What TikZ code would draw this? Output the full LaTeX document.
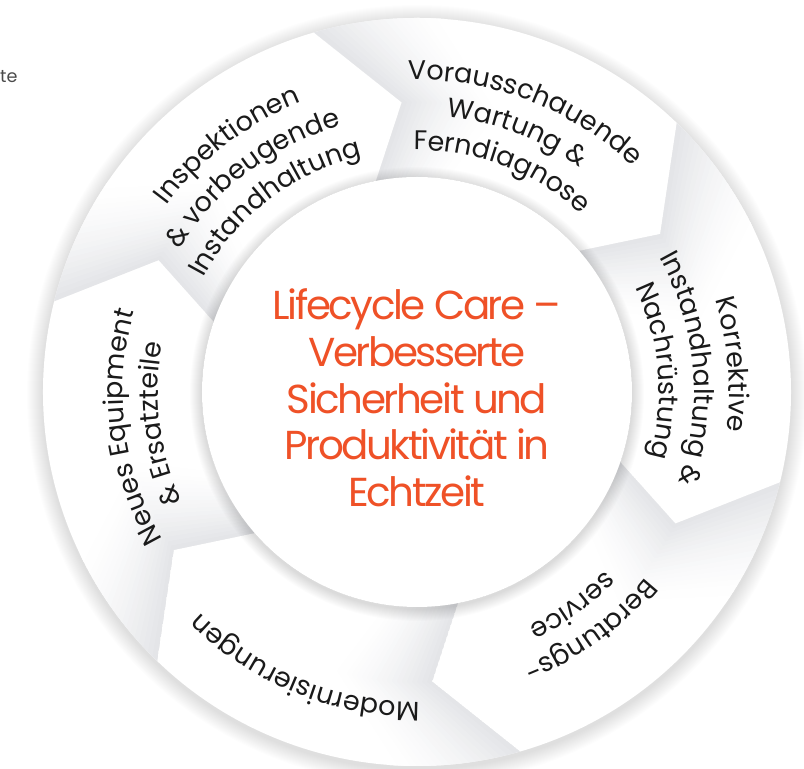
\documentclass[tikz,border=0pt]{standalone}
\usepackage{fontspec}
\setmainfont{Poppins}
\newfontfamily\lblfont{Poppins}
\newfontfamily\corefont[LetterSpace=-6]{Poppins}
\usetikzlibrary{decorations.text}

\definecolor{carered}{HTML}{EF5127}
\definecolor{notchgray}{HTML}{E4E5E8}
\definecolor{lblblack}{HTML}{1A1A1A}
\definecolor{sidegray}{HTML}{4A4A4A}

\tikzset{
  ring label/.style={decorate, decoration={text along path, text align=center, text color=lblblack}},
}
\newcommand{\lblsize}{\lblfont\fontsize{23}{27}\selectfont}
\newcommand{\ringline}[3]{%
  \path[ring label, decoration={text={|\lblsize|#3}}]
    ({#1+75}:#2) arc[start angle={#1+75}, end angle={#1-75}, radius=#2];}

\begin{document}
\begin{tikzpicture}[x=0.03cm, y=0.03cm]
  \useasboundingbox (-417,-377) rectangle (387,392);
  % soft shadow round the ring
  \foreach \k in {0,...,15}
    \fill[black, opacity=0.008] (0,-3) circle (390-\k);
  % the six arrow segments, shaded at their tails
  \foreach \a in {106,46,-14,-74,-134,-194} {
    \begin{scope}
      \clip (\a+60:374) arc[start angle=\a+60, end angle=\a, radius=374]
        -- (\a-13:290) -- (\a-5:215)
        arc[start angle=\a-5, end angle=\a+55, radius=215]
        -- (\a+47:290) -- cycle;
      \fill[white] (0,0) circle (380);
      \foreach \j in {0,...,19} {
        \pgfmathsetmacro\s{\a+60-\j}
        \pgfmathsetmacro\e{\s-1.4}
        \pgfmathsetmacro\p{100*(1-\j/20)^1.6}
        \fill[notchgray!\p!white] (\s:420) -- (\s:374) -- (\s-13:290) -- (\s-5:215) -- (\s-5:190)
          -- (\e-5:190) -- (\e-5:215) -- (\e-13:290) -- (\e:374) -- (\e:420) -- cycle;
      }
    \end{scope}
  }
  % inner disc with its shadow
  \foreach \k in {0,...,11}
    \fill[black, opacity=0.012] (0,-2) circle (227-\k);
  \fill[white] (0,0) circle (215);

  \node[align=center, text=carered, font=\corefont\fontsize{34.5}{39.8}\selectfont] (core) at (0,-6)
    {Lifecycle Care –\\Verbesserte\\Sicherheit und\\Produktivität in\\Echtzeit};

  % labels round the ring
  \ringline{127.5}{312}{Inspektionen}
  \ringline{127.5}{277}{{\&} vorbeugende}
  \ringline{127.5}{242}{Instandhaltung}
  \ringline{69}{312}{Vorausschauende}
  \ringline{69}{277}{Wartung {\&}}
  \ringline{69}{242}{Ferndiagnose}
  \ringline{5}{312}{Korrektive}
  \ringline{5}{277}{Instandhaltung {\&}}
  \ringline{5}{242}{Nachrüstung}
  \ringline{-54}{294}{Beratungs-}
  \ringline{-54}{259}{service}
  \ringline{-112}{310}{Modernisierungen}
  \ringline{187}{294}{Neues Equipment}
  \ringline{187}{259}{{\&} Ersatzteile}

  \node[anchor=base west, inner sep=0, text=sidegray, font=\lblfont\fontsize{15}{18}\selectfont] (cutword) at (-417,309) {te};
\end{tikzpicture}
\end{document}
